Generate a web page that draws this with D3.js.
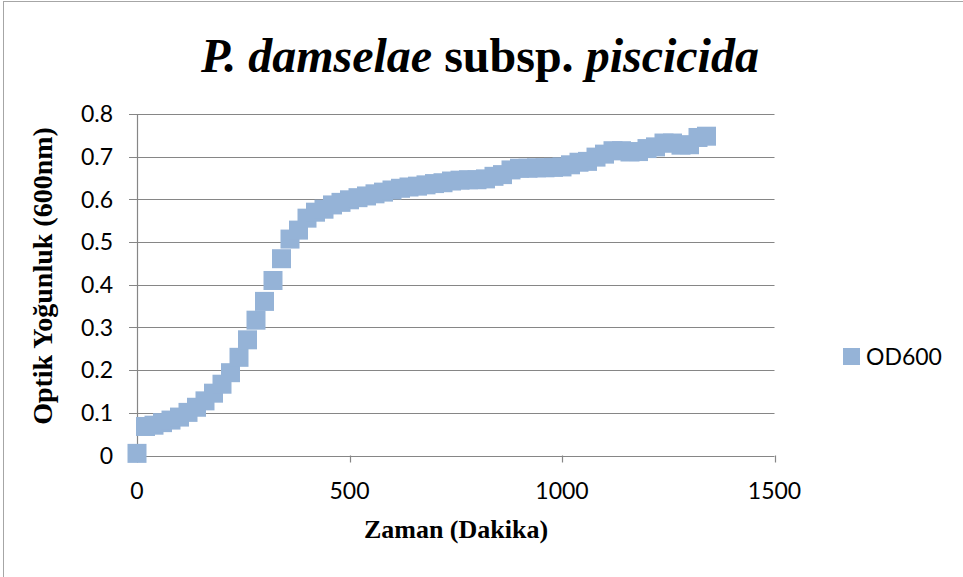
<!DOCTYPE html>
<html>
<head>
<meta charset="utf-8">
<script src="https://cdn.jsdelivr.net/npm/d3@7"></script>
<style>
  html, body { margin: 0; padding: 0; background: #ffffff; }
  svg { display: block; }
</style>
</head>
<body>
<svg id="chart" width="963" height="577"></svg>
<script>
// ---- data ----
const timeMinutes = [0,20,40,60,80,100,120,140,160,180,200,220,240,260,280,300,320,340,360,380,
  400,420,440,460,480,500,520,540,560,580,600,620,640,660,680,700,720,740,760,780,
  800,820,840,860,880,900,920,940,960,980,1000,1020,1040,1060,1080,1100,1120,1140,1160,1180,
  1200,1220,1240,1260,1280,1300,1320,1340];
const od600 = [0.005,0.068,0.071,0.077,0.083,0.090,0.101,0.113,0.128,0.146,0.167,0.194,0.230,0.271,0.317,0.361,0.410,0.461,0.507,0.528,
  0.556,0.570,0.577,0.587,0.593,0.599,0.604,0.608,0.613,0.617,0.622,0.626,0.629,0.631,0.634,0.637,0.639,0.643,0.645,0.646,
  0.646,0.648,0.654,0.658,0.669,0.673,0.673,0.674,0.674,0.675,0.676,0.681,0.687,0.689,0.699,0.706,0.714,0.714,0.711,0.712,
  0.719,0.723,0.732,0.732,0.727,0.728,0.745,0.748];
const seriesName = "OD600";
const xTicks = [0, 500, 1000, 1500];
const yTicks = [0, 0.1, 0.2, 0.3, 0.4, 0.5, 0.6, 0.7, 0.8];
const yTickLabels = ["0", "0.1", "0.2", "0.3", "0.4", "0.5", "0.6", "0.7", "0.8"];
const titleParts = [
  {text: "P. damselae", italic: true},
  {text: " subsp. ", italic: false},
  {text: "piscicida", italic: true}
];
const xTitle = "Zaman (Dakika)";
const yTitle = "Optik Yoğunluk (600nm)";

// ---- layout ----
const svg = d3.select("#chart");
const plot = {left: 137, right: 774.5, top: 114, bottom: 455.5};
const x = d3.scaleLinear().domain([0, 1500]).range([plot.left, plot.right]);
const y = d3.scaleLinear().domain([0, 0.8]).range([plot.bottom, plot.top]);
const gridColor = "#868686";
const markerColor = "#95b3d7";
const labelFont = "Lato, 'Open Sans', sans-serif";
const serif = "'Times New Roman', 'Liberation Serif', serif";

// outer chart frame
svg.append("rect")
  .attr("x", 3.5).attr("y", 1.5).attr("width", 1100).attr("height", 700)
  .attr("fill", "none").attr("stroke", "#a6a6a6").attr("stroke-width", 1);

// title
const title = svg.append("text")
  .attr("x", 480).attr("y", 72)
  .attr("text-anchor", "middle")
  .style("font-family", serif).style("font-weight", "bold")
  .style("font-size", "48px").attr("fill", "#000");
title.selectAll("tspan").data(titleParts).join("tspan")
  .style("font-style", d => d.italic ? "italic" : "normal")
  .style("white-space", "pre")
  .text(d => d.text);

// gridlines (horizontal) with left tick stubs
svg.append("g").selectAll("line").data(yTicks).join("line")
  .attr("x1", plot.left - 8).attr("x2", plot.right)
  .attr("y1", d => Math.round(y(d)) + 0.5).attr("y2", d => Math.round(y(d)) + 0.5)
  .attr("stroke", gridColor).attr("stroke-width", 1.2);

// y axis line
svg.append("line")
  .attr("x1", plot.left + 0.5).attr("x2", plot.left + 0.5)
  .attr("y1", plot.top).attr("y2", plot.bottom + 7)
  .attr("stroke", gridColor).attr("stroke-width", 1.2);

// x axis tick marks
svg.append("g").selectAll("line").data(xTicks.slice(1)).join("line")
  .attr("x1", d => Math.round(x(d)) + 0.5).attr("x2", d => Math.round(x(d)) + 0.5)
  .attr("y1", plot.bottom).attr("y2", plot.bottom + 7)
  .attr("stroke", gridColor).attr("stroke-width", 1.2);

// y tick labels
svg.append("g").selectAll("text").data(yTicks).join("text")
  .attr("x", 113).attr("y", d => y(d))
  .attr("dy", "0.36em")
  .attr("text-anchor", "end")
  .attr("font-family", labelFont).attr("font-size", 23).attr("fill", "#000")
  .text((d, i) => yTickLabels[i]);

// x tick labels
svg.append("g").selectAll("text").data(xTicks).join("text")
  .attr("x", d => x(d)).attr("y", 499)
  .attr("text-anchor", "middle")
  .attr("font-family", labelFont).attr("font-size", 23).attr("fill", "#000")
  .text(d => String(d));

// data markers
const pts = timeMinutes.map((t, i) => ({t, v: od600[i]}));
const ms = 19;
svg.append("g").selectAll("rect").data(pts).join("rect")
  .attr("x", d => x(d.t) - ms / 2).attr("y", d => y(d.v) - ms / 2)
  .attr("width", ms).attr("height", ms)
  .attr("fill", markerColor);

// axis titles
svg.append("text")
  .attr("x", 456).attr("y", 538)
  .attr("text-anchor", "middle")
  .style("font-family", serif).style("font-weight", "bold")
  .style("font-size", "26px").attr("fill", "#000")
  .text(xTitle);

svg.append("text")
  .attr("transform", "translate(52,276) rotate(-90)")
  .attr("text-anchor", "middle")
  .style("font-family", serif).style("font-weight", "bold")
  .style("font-size", "28px").attr("fill", "#000")
  .text(yTitle);

// legend
const legend = svg.append("g").attr("transform", "translate(843,357)");
legend.append("rect").attr("x", 0).attr("y", -9).attr("width", 17).attr("height", 17)
  .attr("fill", markerColor);
legend.append("text").attr("x", 23).attr("y", 0).attr("dy", "0.36em")
  .attr("font-family", labelFont).attr("font-size", 23).attr("fill", "#000")
  .text(seriesName);
</script>
</body>
</html>
